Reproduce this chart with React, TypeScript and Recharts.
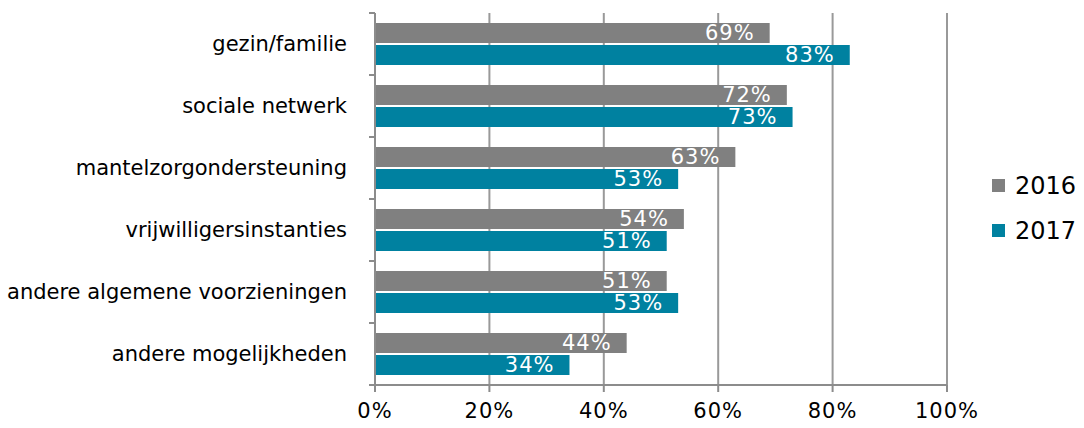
import { BarChart, Bar, XAxis, YAxis, CartesianGrid, Legend, LabelList } from "recharts";

const categories = [
  "gezin/familie",
  "sociale netwerk",
  "mantelzorgondersteuning",
  "vrijwilligersinstanties",
  "andere algemene voorzieningen",
  "andere mogelijkheden",
];
const values2016 = [69, 72, 63, 54, 51, 44];
const values2017 = [83, 73, 53, 51, 53, 34];
const xTicks = [0, 20, 40, 60, 80, 100];

const data = categories.map((name, i) => ({ name, y2016: values2016[i], y2017: values2017[i] }));

const W = 1084;
const H = 428;
const LEGEND_W = 94;
const M = { top: 13, right: 137 - LEGEND_W, bottom: 0, left: 0 };
const X_AXIS_H = 43;
const FONT = "'DejaVu Sans', Verdana, sans-serif";
const AXIS = "#8c8c8c";
const GRAY = "#808080";
const TEAL = "#0081a0";

const band = (H - M.top - X_AXIS_H) / categories.length;

const CategoryTick = (props: any) => {
  const { x, y, payload, index } = props;
  const last = index === categories.length - 1;
  const lx = x + 8;
  return (
    <g>
      <line x1={lx - 6} x2={lx} y1={y - band / 2} y2={y - band / 2} stroke={AXIS} strokeWidth={2} />
      {last && <line x1={lx - 6} x2={lx} y1={y + band / 2} y2={y + band / 2} stroke={AXIS} strokeWidth={2} />}
      <text x={x - 20} y={y} dy={7} textAnchor="end" fontSize={21} fill="#000" fontFamily={FONT}>
        {payload.value}
      </text>
    </g>
  );
};

const LegendBox = () => (
  <div style={{ fontFamily: FONT, fontSize: 24, color: "#000" }}>
    {[["2016", GRAY], ["2017", TEAL]].map(([label, color]) => (
      <div key={label} style={{ display: "flex", alignItems: "center", height: 45 }}>
        <span style={{ width: 13, height: 13, background: color, marginRight: 10, display: "inline-block" }} />
        {label}
      </div>
    ))}
  </div>
);

const labelProps = {
  position: "insideRight" as const,
  offset: 15,
  formatter: (v: any) => `${v}%`,
  fill: "#fff",
  fontSize: 21,
  fontFamily: FONT,
  letterSpacing: 1,
};

export default function App() {
  return (
    <div style={{ position: "absolute", left: 0, top: 0, background: "#fff" }}>
      <BarChart width={W} height={H} data={data} layout="vertical" margin={M} barSize={20} barGap={2}>
        <CartesianGrid horizontal={false} stroke="#999" strokeWidth={2} />
        <XAxis
          type="number"
          domain={[0, 100]}
          ticks={xTicks}
          height={X_AXIS_H}
          tickFormatter={(v) => `${v}%`}
          axisLine={{ stroke: AXIS, strokeWidth: 2 }}
          tickLine={{ stroke: AXIS, strokeWidth: 2 }}
          tickSize={7}
          tick={{ fontSize: 21, fill: "#000", fontFamily: FONT, letterSpacing: 1 }}
          tickMargin={11}
          interval={0}
        />
        <YAxis
          type="category"
          dataKey="name"
          width={375}
          axisLine={{ stroke: AXIS, strokeWidth: 2 }}
          tickLine={false}
          tick={<CategoryTick />}
          interval={0}
        />
        <Legend
          layout="vertical"
          align="right"
          verticalAlign="middle"
          content={<LegendBox />}
          wrapperStyle={{ left: 992, top: 163, width: LEGEND_W }}
        />
        <Bar dataKey="y2016" name="2016" fill={GRAY} isAnimationActive={false}>
          <LabelList dataKey="y2016" {...labelProps} />
        </Bar>
        <Bar dataKey="y2017" name="2017" fill={TEAL} isAnimationActive={false}>
          <LabelList dataKey="y2017" {...labelProps} />
        </Bar>
      </BarChart>
    </div>
  );
}
